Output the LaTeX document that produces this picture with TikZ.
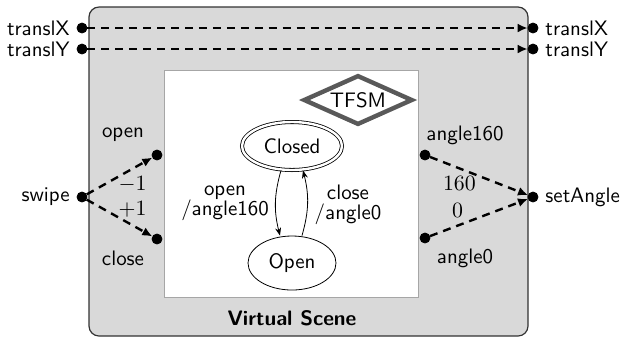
\documentclass[tikz,border=0pt]{standalone}
\usetikzlibrary{shapes.geometric,arrows.meta}
\begin{document}
\begin{tikzpicture}[x=0.5bp,y=-0.5bp,font=\sffamily\fontsize{10.5}{12}\selectfont]
\tikzstyle{port}=[draw, circle, fill=black, inner sep=0pt, minimum size=5bp]
\tikzstyle{signal}=[very thick, dash pattern=on 4pt off 3pt, -{Latex[length=5pt,width=4.5pt]}]
\tikzstyle{state}=[draw, ellipse, inner sep=1pt]
\tikzstyle{trans}=[-{Stealth[length=4pt,width=3pt]}]
\useasboundingbox (0,0) rectangle (623,338);

% virtual scene
\draw[black!80, line width=0.6pt, fill=black!15, rounded corners=5bp] (89,7) rectangle (528,336);
\draw[black!35, fill=white] (164,70) rectangle (418,297);
\node[font=\sffamily\bfseries\fontsize{10.5}{12}\selectfont] (scene) at (292,318) {Virtual Scene};

% state machine
\node[draw=black!65, line width=2.2bp, diamond, aspect=2.2, inner sep=1.5pt, minimum height=23bp] (tfsm) at (358,100) {TFSM};
\node[state, double, double distance=1.2pt, minimum width=50bp, minimum height=24bp] (closed) at (292,146) {Closed};
\node[state, minimum width=44bp, minimum height=27bp] (open) at (292,263) {Open};

\draw[trans] ([xshift=-5.5bp]closed.south) to[bend right=15] ([xshift=-6bp]open.north);
\draw[trans] ([xshift=5bp]open.north) to[bend right=15] ([xshift=5.5bp]closed.south);
\node[align=center] (lblOpen) at (225,203) {open\\[-2pt]/angle160};
\node[align=center] (lblClose) at (348,205) {close\\[-2pt]/angle0};

% translation
\node[port, label=left:translX] (txIn) at (82,28) {};
\node[port, label=right:translX] (txOut) at (533,28) {};
\node[port, label=left:translY] (tyIn) at (82,49) {};
\node[port, label=right:translY] (tyOut) at (533,49) {};
\draw[signal] (txIn) -- (txOut);
\draw[signal] (tyIn) -- (tyOut);

% swipe
\node[port, label=left:swipe] (swipe) at (82,197) {};
\node[port] (evOpen) at (157,155) {};
\node[port] (evClose) at (157,239) {};
\node (lblEvOpen) at (123,135) {open};
\node (lblEvClose) at (123,258) {close};
\draw[signal] (swipe) -- node[pos=0.7, below] {$-1$} (evOpen);
\draw[signal] (swipe) -- node[pos=0.7, above] {$+1$} (evClose);

% angle
\node[port] (a160) at (425,155) {};
\node[port] (a0) at (425,238) {};
\node[port, label=right:setAngle] (setAngle) at (533,197) {};
\node (lblA160) at (465,135) {angle160};
\node (lblA0) at (465,258) {angle0};
\draw[signal] (a160) -- node[pos=0.3, below] {$160$} (setAngle);
\draw[signal] (a0) -- node[pos=0.28, above] {$0$} (setAngle);
\end{tikzpicture}
\end{document}
